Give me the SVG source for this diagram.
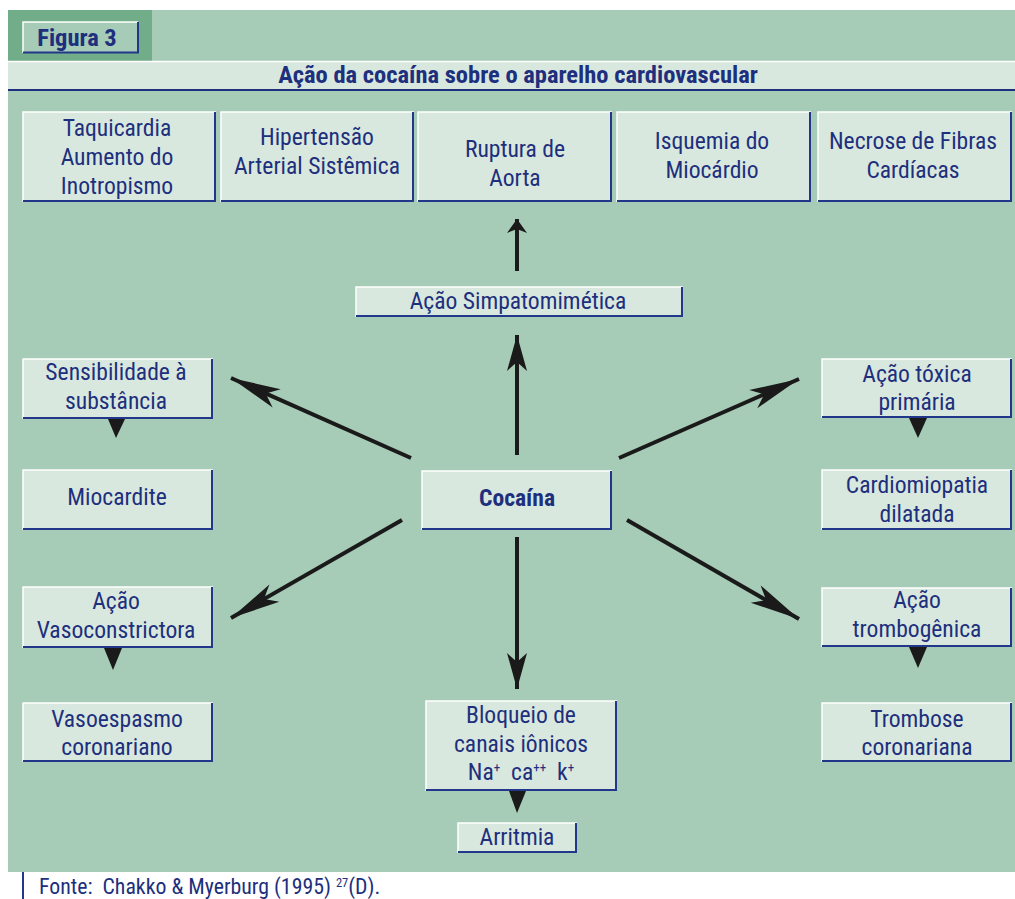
<svg xmlns="http://www.w3.org/2000/svg" width="1015" height="899" viewBox="0 0 1015 899">
<defs>
<style>
.t{font-family:"Liberation Sans Narrow","Roboto Condensed","DejaVu Sans Condensed","Liberation Sans",sans-serif;font-size:23.6px;fill:#1d2f7d;text-anchor:middle}
.b{font-weight:bold}
.box{fill:#d9e8de}
.hl{fill:none;stroke:#ffffff;stroke-width:1.5}
.sh{fill:none;stroke:#22378a;stroke-width:2}
.ln{fill:none;stroke:#1a1a1a;stroke-width:4}
.tri{fill:#1a1a1a}
</style>
<marker id="big" markerUnits="userSpaceOnUse" viewBox="-52 -12 54 24" refX="0" refY="0" markerWidth="54" markerHeight="24" orient="auto">
<path d="M0,0 L-50,-10 L-38,0 L-50,10 Z" fill="#1a1a1a"/>
</marker>
<marker id="med" markerUnits="userSpaceOnUse" viewBox="-40 -12 42 24" refX="0" refY="0" markerWidth="42" markerHeight="24" orient="auto">
<path d="M0,0 L-36,-10 L-27,0 L-36,10 Z" fill="#1a1a1a"/>
</marker>
<marker id="sm" markerUnits="userSpaceOnUse" viewBox="-16 -11 18 22" refX="0" refY="0" markerWidth="18" markerHeight="22" orient="auto">
<path d="M0,0 L-14,-10 L-10,0 L-14,10 Z" fill="#1a1a1a"/>
</marker>
</defs>
<rect x="8" y="10" width="1007" height="862" fill="#a6cbb7"/>
<rect x="8" y="10" width="144" height="51" fill="#72ad8a"/>
<g id="figura">
<rect x="23" y="22" width="115" height="31" fill="#a6cbb7"/>
<polyline class="hl" points="23,53 23,22 138,22"/>
<polyline class="sh" points="23,52.5 138,52.5 138,22"/>
<text class="t b" x="77" y="46" style="font-size:24.5px">Figura 3</text>
</g>
<g id="title">
<rect x="8" y="61" width="1007" height="30" class="box"/>
<line x1="8" y1="61.5" x2="1015" y2="61.5" stroke="#ffffff" stroke-width="1.5"/>
<line x1="8" y1="90" x2="1015" y2="90" stroke="#1d2f7d" stroke-width="2"/>
<text class="t b" x="518" y="83" style="font-size:24.5px">Ação da cocaína sobre o aparelho cardiovascular</text>
</g>
<g id="connectors">
<line class="ln" x1="517" y1="271" x2="517" y2="219" marker-end="url(#sm)"/>
<line class="ln" x1="517" y1="455" x2="517" y2="335" marker-end="url(#med)"/>
<line class="ln" x1="517" y1="537" x2="517" y2="689" marker-end="url(#med)"/>
<line class="ln" x1="411" y1="458" x2="231" y2="378" marker-end="url(#big)"/>
<line class="ln" x1="402" y1="520" x2="231" y2="618" marker-end="url(#big)"/>
<line class="ln" x1="619" y1="458" x2="799" y2="379" marker-end="url(#big)"/>
<line class="ln" x1="627" y1="520" x2="799" y2="619" marker-end="url(#big)"/>
<path class="tri" d="M108,419 L125,419 L116,438 Z"/>
<path class="tri" d="M104,648 L122,648 L113,670 Z"/>
<path class="tri" d="M909,418 L927,418 L918,438 Z"/>
<path class="tri" d="M909,647 L927,647 L918,668 Z"/>
<path class="tri" d="M509,791 L526,791 L517,813 Z"/>
</g>
<g id="n1">
<rect class="box" x="23" y="112" width="193" height="90"/>
<polyline class="hl" points="23,202 23,112 216,112"/>
<polyline class="sh" points="23,201 215,201 215,112"/>
<text class="t" x="117" y="136">Taquicardia</text>
<text class="t" x="117" y="165">Aumento do</text>
<text class="t" x="117" y="194">Inotropismo</text>
</g>
<g id="n2">
<rect class="box" x="221" y="112" width="193" height="90"/>
<polyline class="hl" points="221,202 221,112 414,112"/>
<polyline class="sh" points="221,201 413,201 413,112"/>
<text class="t" x="317" y="145">Hipertensão</text>
<text class="t" x="317" y="174">Arterial Sistêmica</text>
</g>
<g id="n3">
<rect class="box" x="418" y="112" width="194" height="90"/>
<polyline class="hl" points="418,202 418,112 612,112"/>
<polyline class="sh" points="418,201 611,201 611,112"/>
<text class="t" x="515" y="157">Ruptura de</text>
<text class="t" x="515" y="186">Aorta</text>
</g>
<g id="n4">
<rect class="box" x="617" y="112" width="194" height="90"/>
<polyline class="hl" points="617,202 617,112 811,112"/>
<polyline class="sh" points="617,201 810,201 810,112"/>
<text class="t" x="712" y="149">Isquemia do</text>
<text class="t" x="712" y="178">Miocárdio</text>
</g>
<g id="n5">
<rect class="box" x="818" y="112" width="194" height="90"/>
<polyline class="hl" points="818,202 818,112 1012,112"/>
<polyline class="sh" points="818,201 1011,201 1011,112"/>
<text class="t" x="913" y="149">Necrose de Fibras</text>
<text class="t" x="913" y="178">Cardíacas</text>
</g>
<g id="simpato">
<rect class="box" x="356" y="287" width="327" height="30"/>
<polyline class="hl" points="356,317 356,287 683,287"/>
<polyline class="sh" points="356,316 682,316 682,287"/>
<text class="t" x="518" y="309">Ação Simpatomimética</text>
</g>
<g id="cocaina">
<rect class="box" x="422" y="471" width="190" height="59"/>
<polyline class="hl" points="422,530 422,471 612,471"/>
<polyline class="sh" points="422,529 611,529 611,471"/>
<text class="t b" x="517" y="506">Cocaína</text>
</g>
<g id="sensibilidade">
<rect class="box" x="23" y="359" width="190" height="60"/>
<polyline class="hl" points="23,419 23,359 213,359"/>
<polyline class="sh" points="23,418 212,418 212,359"/>
<text class="t" x="116" y="380">Sensibilidade à</text>
<text class="t" x="116" y="409">substância</text>
</g>
<g id="miocardite">
<rect class="box" x="23" y="470" width="190" height="60"/>
<polyline class="hl" points="23,530 23,470 213,470"/>
<polyline class="sh" points="23,529 212,529 212,470"/>
<text class="t" x="117" y="505">Miocardite</text>
</g>
<g id="vasoconstrictora">
<rect class="box" x="23" y="587" width="190" height="61"/>
<polyline class="hl" points="23,648 23,587 213,587"/>
<polyline class="sh" points="23,647 212,647 212,587"/>
<text class="t" x="116" y="609">Ação</text>
<text class="t" x="116" y="638">Vasoconstrictora</text>
</g>
<g id="vasoespasmo">
<rect class="box" x="23" y="703" width="190" height="59"/>
<polyline class="hl" points="23,762 23,703 213,703"/>
<polyline class="sh" points="23,761 212,761 212,703"/>
<text class="t" x="117" y="727">Vasoespasmo</text>
<text class="t" x="117" y="755">coronariano</text>
</g>
<g id="toxica">
<rect class="box" x="822" y="359" width="190" height="59"/>
<polyline class="hl" points="822,418 822,359 1012,359"/>
<polyline class="sh" points="822,417 1011,417 1011,359"/>
<text class="t" x="917" y="382">Ação tóxica</text>
<text class="t" x="917" y="410">primária</text>
</g>
<g id="cardiomiopatia">
<rect class="box" x="822" y="470" width="190" height="60"/>
<polyline class="hl" points="822,530 822,470 1012,470"/>
<polyline class="sh" points="822,529 1011,529 1011,470"/>
<text class="t" x="917" y="493">Cardiomiopatia</text>
<text class="t" x="917" y="522">dilatada</text>
</g>
<g id="trombogenica">
<rect class="box" x="822" y="588" width="190" height="59"/>
<polyline class="hl" points="822,647 822,588 1012,588"/>
<polyline class="sh" points="822,646 1011,646 1011,588"/>
<text class="t" x="917" y="608">Ação</text>
<text class="t" x="917" y="637">trombogênica</text>
</g>
<g id="trombose">
<rect class="box" x="822" y="703" width="190" height="59"/>
<polyline class="hl" points="822,762 822,703 1012,703"/>
<polyline class="sh" points="822,761 1011,761 1011,703"/>
<text class="t" x="917" y="727">Trombose</text>
<text class="t" x="917" y="755">coronariana</text>
</g>
<g id="bloqueio">
<rect class="box" x="426" y="701" width="191" height="90"/>
<polyline class="hl" points="426,791 426,701 617,701"/>
<polyline class="sh" points="426,790 616,790 616,701"/>
<text class="t" x="521" y="723">Bloqueio de</text>
<text class="t" x="521" y="752">canais iônicos</text>
<text class="t" x="521" y="780" xml:space="preserve">Na<tspan dy="-8" style="font-size:13px">+</tspan><tspan dy="8">  ca</tspan><tspan dy="-8" style="font-size:13px">++</tspan><tspan dy="8">  k</tspan><tspan dy="-8" style="font-size:13px">+</tspan></text>
</g>
<g id="arritmia">
<rect class="box" x="458" y="823" width="119" height="30"/>
<polyline class="hl" points="458,853 458,823 577,823"/>
<polyline class="sh" points="458,852 576,852 576,823"/>
<text class="t" x="517" y="845">Arritmia</text>
</g>
<g id="fonte">
<line x1="23" y1="872" x2="23" y2="899" stroke="#22378a" stroke-width="2"/>
<text class="t" x="39" y="894" style="font-size:21.8px;text-anchor:start" xml:space="preserve">Fonte:  Chakko &amp; Myerburg (1995) <tspan dy="-7" style="font-size:12.5px">27</tspan><tspan dy="7">(D).</tspan></text>
</g>
</svg>
